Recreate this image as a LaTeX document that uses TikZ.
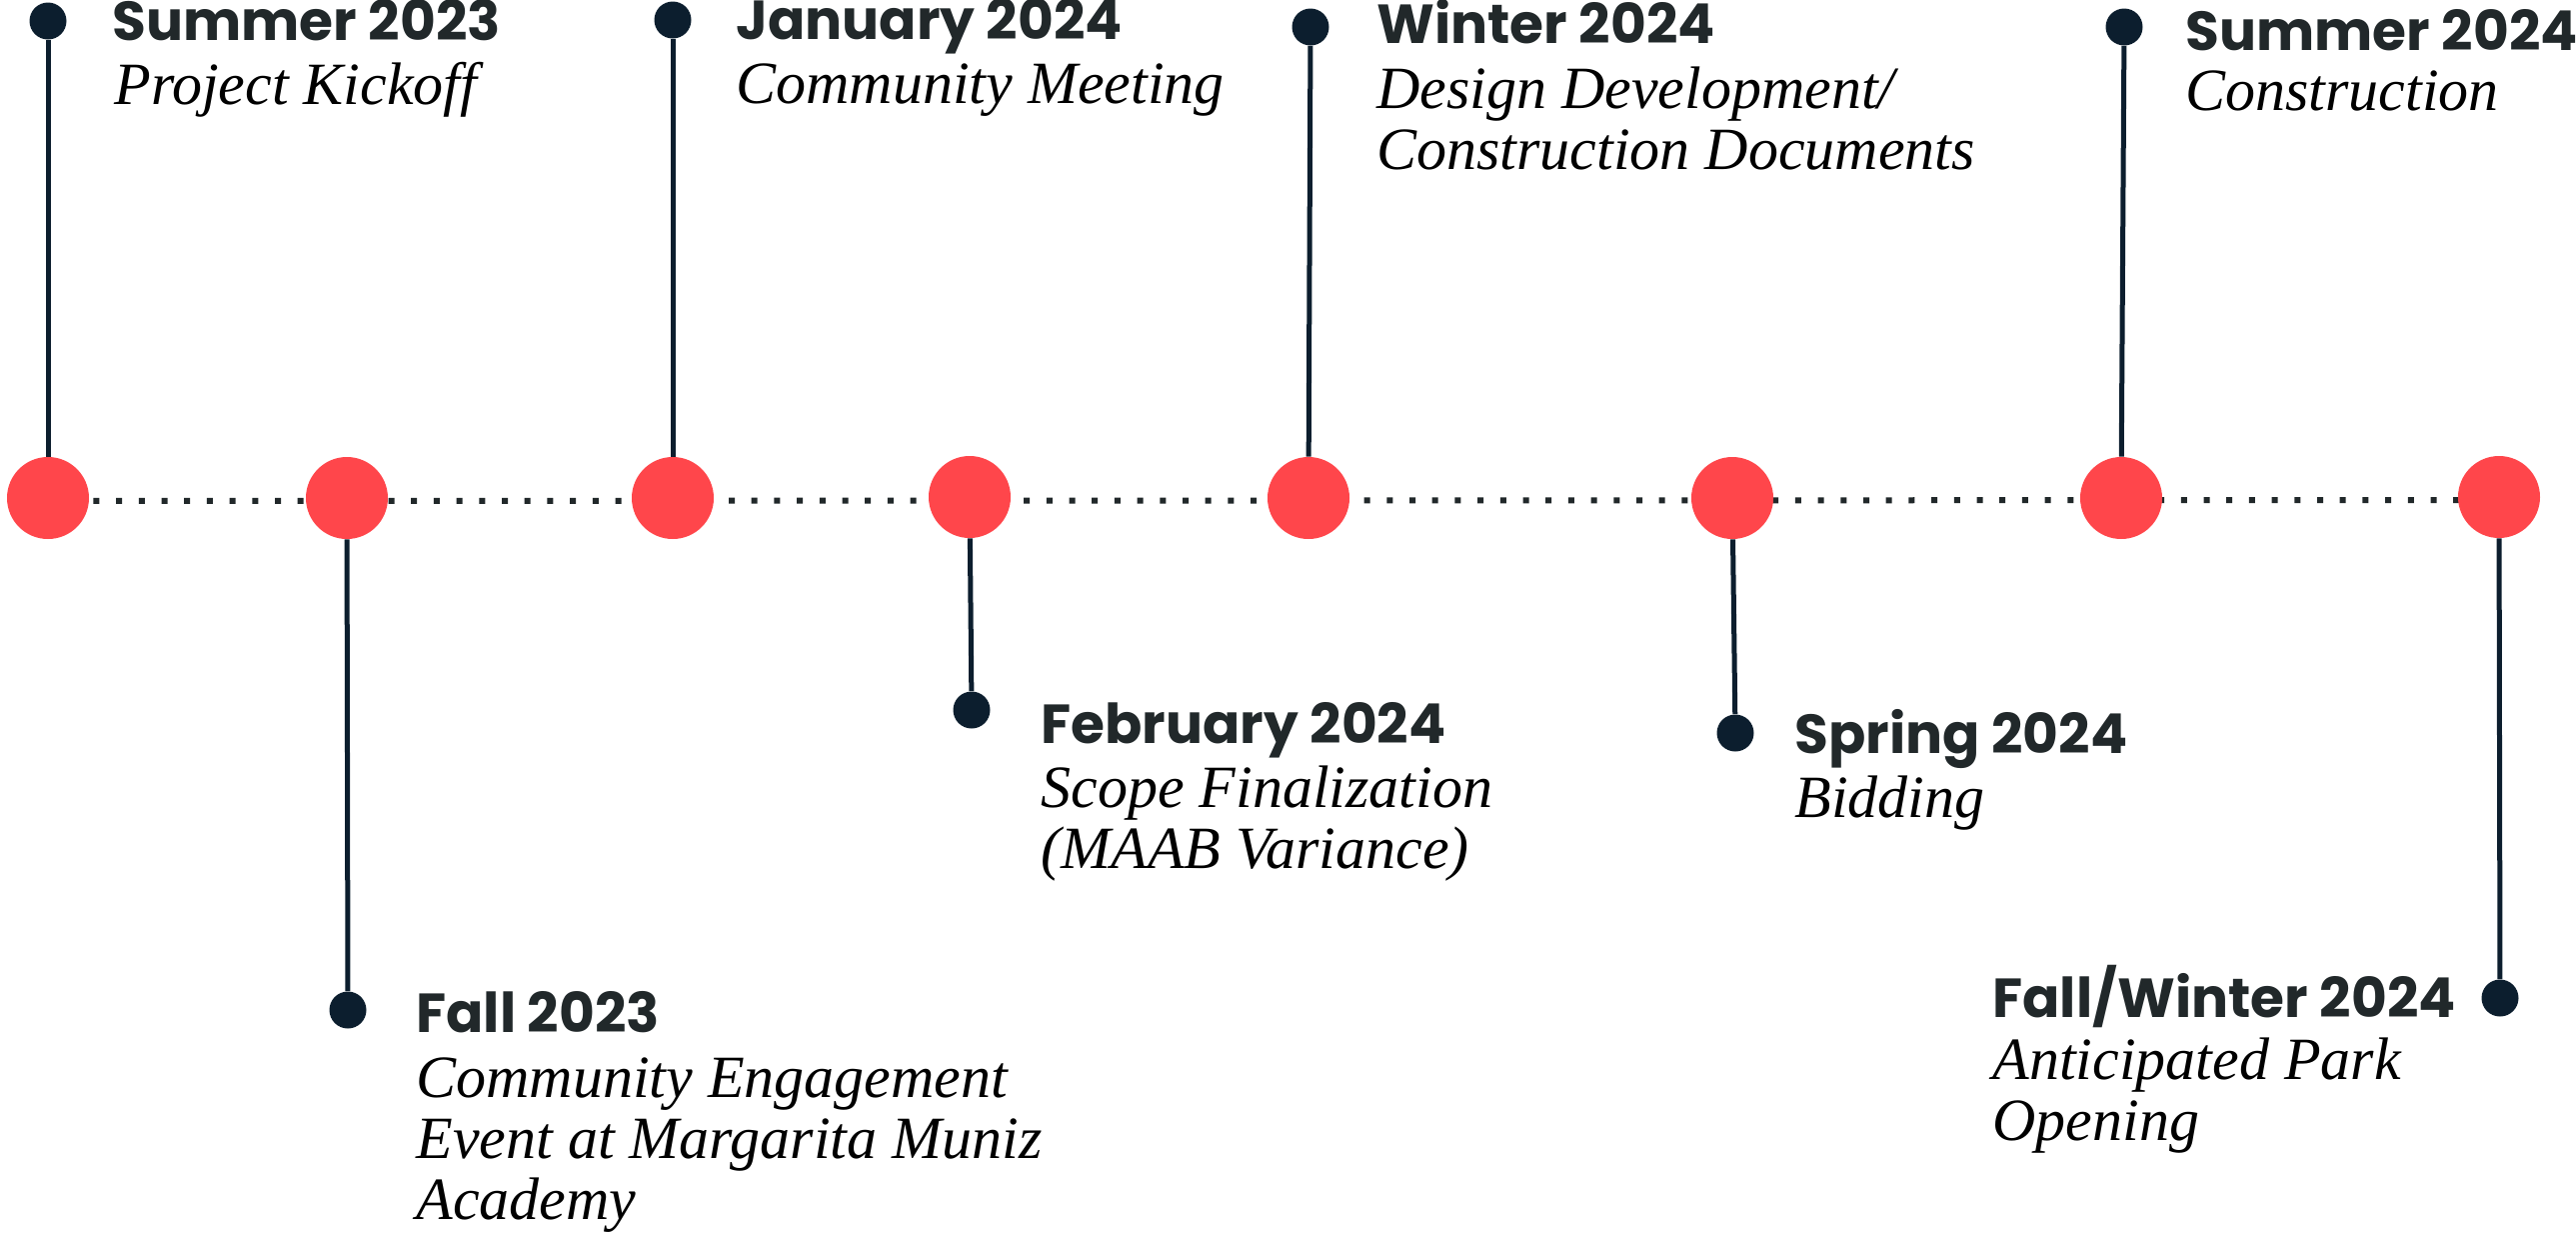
\documentclass[tikz,border=0pt]{standalone}
\usepackage{fontspec}
\usetikzlibrary{backgrounds}
\newfontfamily\headfont{Poppins}
\newfontfamily\descfont{Liberation Serif}
\definecolor{mkred}{HTML}{FF464B}
\definecolor{mknavy}{HTML}{0C1E2E}
\definecolor{mkhead}{HTML}{21282A}
\tikzset{
  milestone/.style={circle, fill=mkred, inner sep=0pt, minimum size=41pt},
  enddot/.style={circle, fill=mknavy, inner sep=0pt, minimum size=18.5pt},
  stem/.style={draw=mknavy, line width=2.5pt},
  dotline/.style={draw=mkhead, line width=3pt, dash pattern=on 3pt off 8.35pt},
  headtxt/.style={anchor=base west, inner sep=0pt, text=mkhead, font=\headfont\bfseries\fontsize{27.5}{33}\selectfont},
  desctxt/.style={anchor=base west, inner sep=0pt, text=black, font=\descfont\itshape\fontsize{30}{30.5}\selectfont}
}
\newcommand\mklines[1]{\begin{tabular}[t]{@{}l@{}}#1\end{tabular}}
\begin{document}
\begin{tikzpicture}[x=0.5pt, y=-0.5pt]
\useasboundingbox (0,0) rectangle (2577,1233);
% milestones
\node[milestone] (c1) at (48,498) {};
\node[milestone] (c2) at (347,498) {};
\node[milestone] (c3) at (673,498) {};
\node[milestone] (c4) at (970,497) {};
\node[milestone] (c5) at (1309,498) {};
\node[milestone] (c6) at (1733,498) {};
\node[milestone] (c7) at (2122,498) {};
\node[milestone] (c8) at (2500,497) {};
\begin{pgfonlayer}{background}
\draw[dotline] ([yshift=-1.5pt]c1.center) -- ([yshift=-1.5pt]c8.center);
\end{pgfonlayer}
% end dots
\node[enddot] (p1) at (48,21) {};
\node[enddot] (p2) at (348,1010) {};
\node[enddot] (p3) at (673,20) {};
\node[enddot] (p4) at (972,710) {};
\node[enddot] (p5) at (1311,27) {};
\node[enddot] (p6) at (1736,733) {};
\node[enddot] (p7) at (2125,27) {};
\node[enddot] (p8) at (2501,998) {};
% stems
\draw[stem] (c1) -- (p1);
\draw[stem] (c2) -- (p2);
\draw[stem] (c3) -- (p3);
\draw[stem] (c4) -- (p4);
\draw[stem] (c5) -- (p5);
\draw[stem] (c6) -- (p6);
\draw[stem] (c7) -- (p7);
\draw[stem] (c8) -- (p8);
% labels
\node[headtxt] (h1) at (112,40) {Summer 2023};
\node[desctxt] (d1) at (114,104) {Project Kickoff};
\node[headtxt] (h2) at (416,1032) {Fall 2023};
\node[desctxt] (d2) at (416,1097) {\mklines{Community Engagement\\Event at Margarita Muniz\\Academy}};
\node[headtxt] (h3) at (736,39) {January 2024};
\node[desctxt] (d3) at (736,103) {Community Meeting};
\node[headtxt] (h4) at (1041,743) {February 2024};
\node[desctxt] (d4) at (1041,807) {\mklines{Scope Finalization\\(MAAB Variance)}};
\node[headtxt] (h5) at (1377,43) {Winter 2024};
\node[desctxt] (d5) at (1377,108) {\mklines{Design Development/\\Construction Documents}};
\node[headtxt] (h6) at (1795,753) {Spring 2024};
\node[desctxt] (d6) at (1795,817) {Bidding};
\node[headtxt] (h7) at (2186,50) {Summer 2024};
\node[desctxt] (d7) at (2186,110) {Construction};
\node[headtxt] (h8) at (1993,1017) {Fall/Winter 2024};
\node[desctxt] (d8) at (1993,1079) {\mklines{Anticipated Park\\Opening}};
\end{tikzpicture}
\end{document}
